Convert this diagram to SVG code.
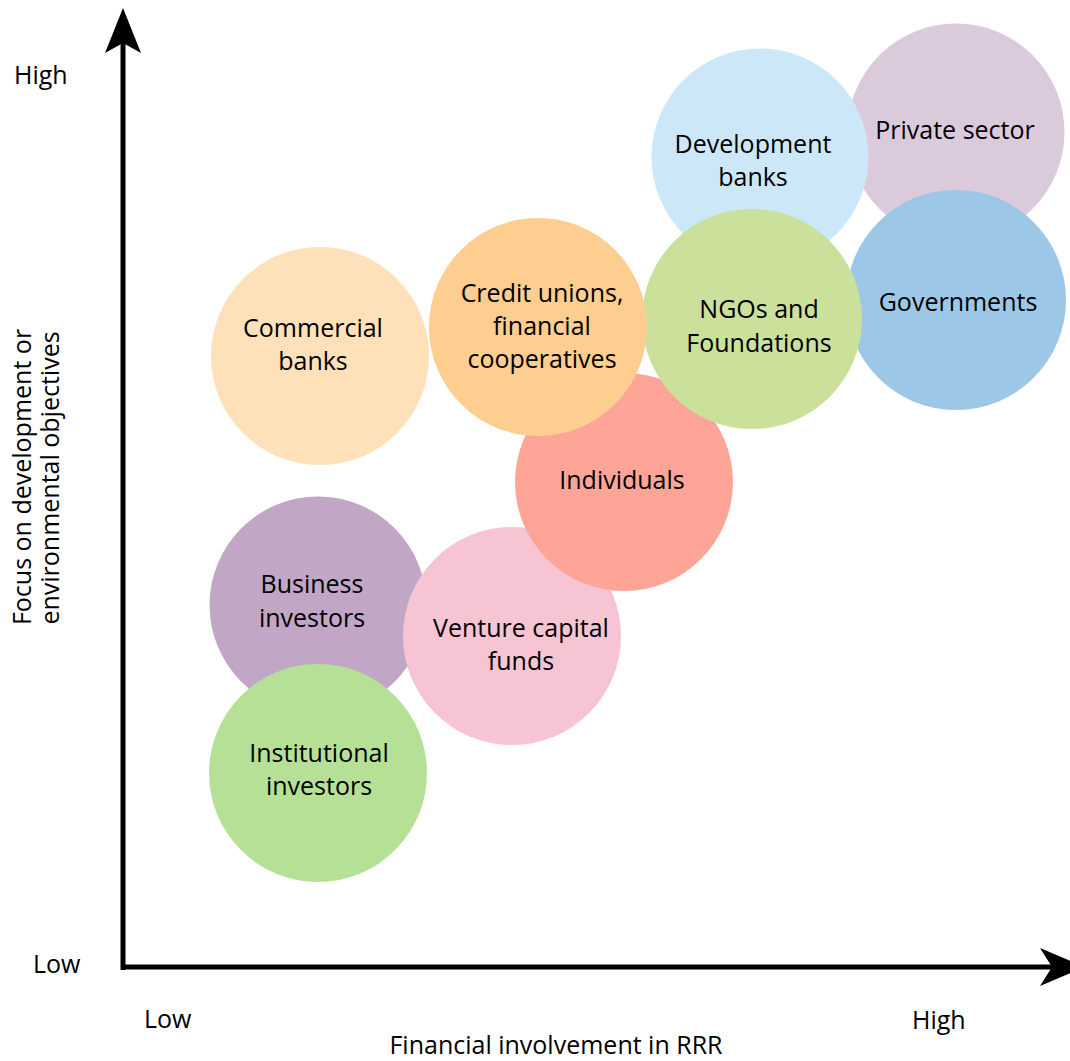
<svg xmlns="http://www.w3.org/2000/svg" width="1070" height="1061" viewBox="0 0 1070 1061">
<style>
text{font-family:"Open Sans","Noto Sans","Liberation Sans",sans-serif;font-size:25px;fill:#000}
.c{text-anchor:middle}
.ax{stroke:#000;stroke-width:5;fill:none}
</style>
<rect width="1070" height="1061" fill="#fff"/>
<g id="axes">
<line class="ax" x1="123" y1="970" x2="123" y2="40"/>
<polygon points="123,8 105,53 123,43 141,53" fill="#000"/>
<line class="ax" x1="121" y1="967" x2="1055" y2="967"/>
<polygon points="1085,967 1040,948 1052,967 1040,986" fill="#000"/>
</g>
<g id="labels">
<text x="14" y="84">High</text>
<text x="33" y="973">Low</text>
<text x="144" y="1028">Low</text>
<text x="912" y="1029">High</text>
<text class="c" x="556" y="1054">Financial involvement in RRR</text>
<text class="c" transform="translate(31,477) rotate(-90)">Focus on development or</text>
<text class="c" transform="translate(59,478) rotate(-90)">environmental objectives</text>
</g>
<g id="private-sector"><circle cx="956" cy="132" r="108.5" fill="#DBC9DC"/><text class="c" x="955" y="139">Private sector</text></g>
<g id="development-banks"><circle cx="760" cy="157" r="108.5" fill="#CCE7F8"/><text class="c" x="753" y="153">Development</text><text class="c" x="753" y="186">banks</text></g>
<g id="governments"><circle cx="956" cy="300" r="110" fill="#9DC7E7"/><text class="c" x="958" y="311">Governments</text></g>
<g id="business-investors"><circle cx="318" cy="605" r="108.5" fill="#C1A6C6"/><text class="c" x="312" y="593">Business</text><text class="c" x="312" y="627">investors</text></g>
<g id="institutional-investors"><circle cx="318" cy="773" r="109" fill="#B5E095"/><text class="c" x="319" y="762">Institutional</text><text class="c" x="319" y="795">investors</text></g>
<g id="venture-capital-funds"><circle cx="512" cy="636" r="109" fill="#F6C4D3"/><text class="c" x="521" y="637">Venture capital</text><text class="c" x="521" y="670">funds</text></g>
<g id="individuals"><circle cx="624" cy="482" r="109" fill="#FEA598"/><text class="c" x="622" y="489">Individuals</text></g>
<g id="ngos-foundations"><circle cx="752" cy="319" r="110" fill="#CAE09B"/><text class="c" x="759" y="318">NGOs and</text><text class="c" x="759" y="352">Foundations</text></g>
<g id="credit-unions"><circle cx="538" cy="327" r="109" fill="#FDCE8F"/><text class="c" x="542" y="302">Credit unions,</text><text class="c" x="542" y="335">financial</text><text class="c" x="542" y="368">cooperatives</text></g>
<g id="commercial-banks"><circle cx="320" cy="356" r="109" fill="#FEE1B8"/><text class="c" x="313" y="337">Commercial</text><text class="c" x="313" y="370">banks</text></g>
</svg>
